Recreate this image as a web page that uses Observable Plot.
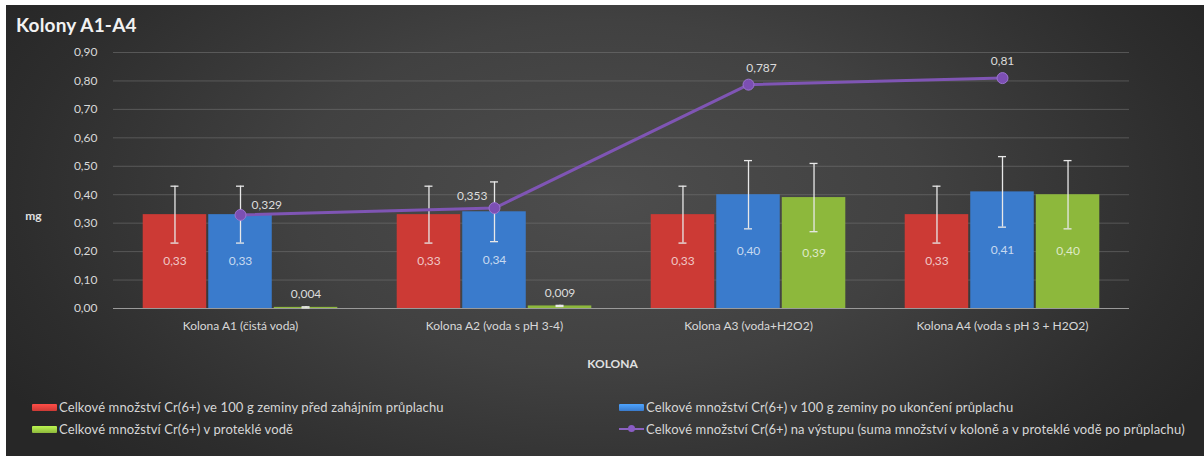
<!DOCTYPE html>
<html>
<head>
<meta charset="utf-8">
<script src="https://cdn.jsdelivr.net/npm/d3@7"></script>
<script src="https://cdn.jsdelivr.net/npm/@observablehq/plot@0.6"></script>
<style>
  html, body { margin: 0; padding: 0; background: #ffffff; }
  body { width: 1204px; height: 456px; position: relative; overflow: hidden; font-family: Lato, "Open Sans", sans-serif; }
  #card { position: absolute; left: 6px; top: 5px; width: 1198px; height: 451px;
    background: radial-gradient(ellipse 58% 85% at 50% 42%, #4d4d4d 0%, #414141 45%, #2d2d2d 85%, #272727 100%); }
  #title { position: absolute; left: 10px; top: 8px; font-size: 19px; font-weight: 700; color: #f2f2f2; letter-spacing: 0.2px; }
  #chart { position: absolute; left: 0; top: 0; }
  .leg { position: absolute; display: flex; align-items: center; font-size: 13px; letter-spacing: 0.12px; color: #d6d6d6; white-space: nowrap; }
  .sw { width: 25px; height: 7px; margin-right: 2px; border-radius: 1px; }
  .swline { width: 25px; height: 10px; margin-right: 2px; position: relative; }
  .swline::before { content: ""; position: absolute; left: 0; right: 0; top: 4px; height: 2px; background: #8b62c0; }
  .swline::after { content: ""; position: absolute; left: 9px; top: 1px; width: 7px; height: 7px; border-radius: 50%; background: #8a5cc4; }
</style>
</head>
<body>
<div id="card">
  <div id="title">Kolony A1-A4</div>
  <div id="chart"></div>
  <div id="legend"></div>
</div>
<script>
// ---- data ----
const categories = ["Kolona A1 (čistá voda)", "Kolona A2 (voda s pH 3-4)", "Kolona A3 (voda+H2O2)", "Kolona A4 (voda s pH 3 + H2O2)"];
const seriesNames = [
  "Celkové množství Cr(6+) ve 100 g zeminy před zahájním průplachu",
  "Celkové množství Cr(6+) v 100 g zeminy po ukončení průplachu",
  "Celkové množství Cr(6+) v proteklé vodě",
  "Celkové množství Cr(6+) na výstupu (suma množství v koloně a v proteklé vodě po průplachu)"
];
const beforeValues = [0.33, 0.33, 0.33, 0.33];
const afterValues  = [0.33, 0.34, 0.40, 0.41];
const waterValues  = [0.004, 0.009, 0.39, 0.40];
const beforeErr = [0.10, 0.10, 0.10, 0.10];
const afterErr  = [0.10, 0.105, 0.12, 0.124];
const waterErr  = [0.002, 0.002, 0.12, 0.12];
const totalValues = [0.329, 0.353, 0.787, 0.81];
const yTicks = [0, 0.1, 0.2, 0.3, 0.4, 0.5, 0.6, 0.7, 0.8, 0.9];
const yLabel = "mg";
const xLabel = "KOLONA";
const colors = ["#cc3a35", "#3a7bcc", "#8db83c", "#7f55b4"];

// ---- layout ----
const W = 1198, H = 380, ML = 107, MR = 75, MT = 47, MB = 77;
const bw = (W - ML - MR) / categories.length;
const slot = bw * 0.258;
const outer = (bw - 3 * slot) / 2;
const fmt2 = d => d.toFixed(2).replace(".", ",");
const fmtRaw = d => String(d).replace(".", ",");

const series = [beforeValues, afterValues, waterValues];
const errs = [beforeErr, afterErr, waterErr];
const tables = series.map((vals, s) => categories.map((c, i) => ({cat: c, v: vals[i], lo: vals[i] - errs[s][i], hi: vals[i] + errs[s][i]})));
const totals = categories.map((c, i) => ({cat: c, v: totalValues[i]}));

const insets = [
  {insetLeft: outer + 1, insetRight: bw - outer - slot + 1},
  {insetLeft: outer + slot + 1, insetRight: outer + slot + 1},
  {insetLeft: bw - outer - slot + 1, insetRight: outer + 1}
];
const offs = [-slot, 0, slot];

const marks = [];
marks.push(Plot.gridY(yTicks, {stroke: "#777777", strokeOpacity: 0.55}));
tables.forEach((t, s) => {
  marks.push(Plot.barY(t, {x: "cat", y: "v", fill: colors[s], ...insets[s]}));
  marks.push(Plot.barY(t, {x: "cat", y1: d => d.v, y2: d => d.v, stroke: "#ffffff", strokeOpacity: 0.25, strokeWidth: 3, ...insets[s]}));
});
marks.push(Plot.ruleY([0], {stroke: "#9a9a9a", strokeWidth: 1.2}));
tables.forEach((t, s) => {
  marks.push(Plot.ruleX(t, {x: "cat", y1: "lo", y2: "hi", dx: offs[s], stroke: "#e8e8e8", strokeWidth: 1.3}));
  marks.push(Plot.tickY(t, {x: "cat", y: "lo", dx: offs[s], stroke: "#e8e8e8", strokeWidth: 1.3, insetLeft: (bw - 8) / 2, insetRight: (bw - 8) / 2}));
  marks.push(Plot.tickY(t, {x: "cat", y: "hi", dx: offs[s], stroke: "#e8e8e8", strokeWidth: 1.3, insetLeft: (bw - 8) / 2, insetRight: (bw - 8) / 2}));
  marks.push(Plot.text(t.filter(d => d.v >= 0.05), {x: "cat", y: d => d.v / 2, dx: offs[s], text: d => fmt2(d.v), fill: "#ffffff", fillOpacity: 0.72, fontSize: 12}));
  marks.push(Plot.text(t.filter(d => d.v < 0.05), {x: "cat", y: "v", dy: -13, dx: offs[s], text: d => fmtRaw(d.v), fill: "#dcdcdc", fontSize: 12}));
});
marks.push(Plot.line(totals, {x: "cat", y: "v", stroke: colors[3], strokeWidth: 3}));
marks.push(Plot.dot(totals, {x: "cat", y: "v", r: 5.5, fill: "#7c4fb3", stroke: "#9b74d0", strokeWidth: 1}));
const lblOpts = [
  {textAnchor: "start", dx: 11, dy: -10},
  {textAnchor: "end", dx: -7, dy: -12},
  {textAnchor: "middle", dx: 13, dy: -16},
  {textAnchor: "middle", dx: 0, dy: -17}
];
totals.forEach((d, i) => {
  marks.push(Plot.text([d], {x: "cat", y: "v", text: e => fmtRaw(e.v), fill: "#dcdcdc", fontSize: 12, ...lblOpts[i]}));
});
marks.push(Plot.axisY(yTicks, {tickSize: 0, tickPadding: 16, tickFormat: fmt2, fill: "#d8d8d8", fontSize: 12, label: null}));
marks.push(Plot.axisX({tickSize: 0, tickPadding: 13, fill: "#d8d8d8", fontSize: 12, label: null}));
marks.push(Plot.text([yLabel], {frameAnchor: "left", dx: -80, dy: 36, textAnchor: "middle", fill: "#e0e0e0", fontSize: 12, fontWeight: 700}));
marks.push(Plot.text([xLabel], {frameAnchor: "bottom", dy: 59, dx: -9, textAnchor: "middle", fill: "#e0e0e0", fontSize: 12, fontWeight: 700}));

const chart = Plot.plot({
  width: W, height: H,
  marginLeft: ML, marginRight: MR, marginTop: MT, marginBottom: MB,
  x: {domain: categories, padding: 0, axis: null},
  y: {domain: [0, 0.9], axis: null},
  style: {background: "transparent", fontFamily: "Lato, 'Open Sans', sans-serif", overflow: "visible"},
  marks
});
document.getElementById("chart").appendChild(chart);

// ---- legend ----
const legend = document.getElementById("legend");
const legPos = [[26, 394], [613, 394], [26, 416], [613, 416]];
seriesNames.forEach((name, i) => {
  const item = document.createElement("div");
  item.className = "leg";
  item.style.left = legPos[i][0] + "px";
  item.style.top = legPos[i][1] + "px";
  const sw = document.createElement("div");
  if (i < 3) {
    sw.className = "sw";
    sw.style.background = `linear-gradient(${d3.color(colors[i]).brighter(0.8)}, ${colors[i]})`;
  } else {
    sw.className = "swline";
  }
  item.appendChild(sw);
  const tx = document.createElement("span");
  tx.textContent = name;
  item.appendChild(tx);
  legend.appendChild(item);
});
</script>
</body>
</html>
